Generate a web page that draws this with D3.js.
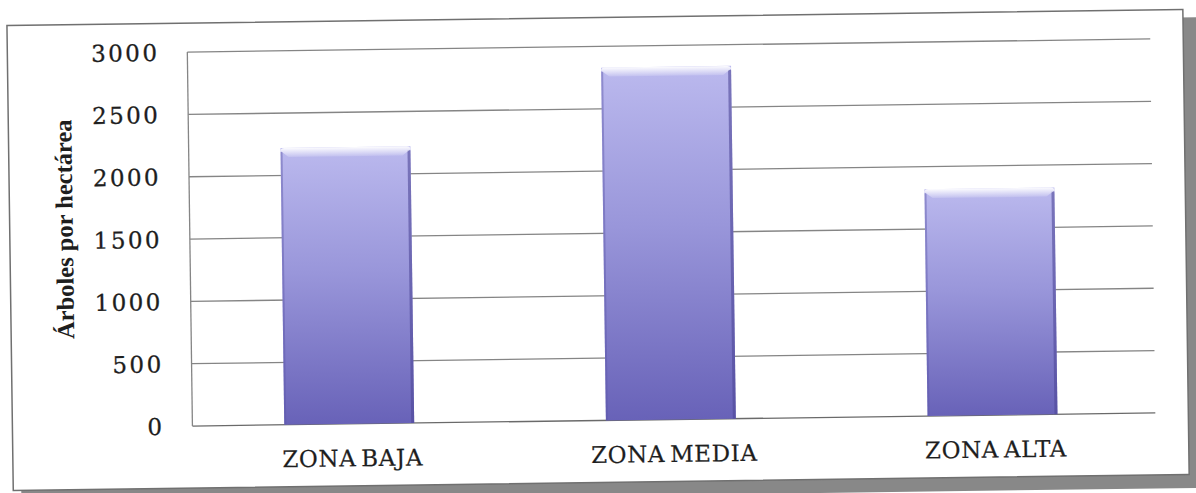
<!DOCTYPE html>
<html>
<head>
<meta charset="utf-8">
<script src="https://cdn.jsdelivr.net/npm/d3@7"></script>
<style>
  html, body { margin: 0; padding: 0; background: #fff; }
  svg { display: block; }
</style>
</head>
<body>
<svg></svg>
<script>
// data
var categories = ["ZONA BAJA", "ZONA MEDIA", "ZONA ALTA"];
var values = [2220, 2830, 1820];
var yTicks = [0, 500, 1000, 1500, 2000, 2500, 3000];
var yTitle = "Árboles por hectárea";

var width = 1196,
    height = 493;

var svg = d3.select("svg")
    .attr("width", width)
    .attr("height", height);

var defs = svg.append("defs");

var grad = defs.append("linearGradient")
    .attr("id", "barFill")
    .attr("x1", 0).attr("y1", 0)
    .attr("x2", 0).attr("y2", 1);
grad.append("stop").attr("offset", "0%").attr("stop-color", "#bbb9ee");
grad.append("stop").attr("offset", "45%").attr("stop-color", "#9996da");
grad.append("stop").attr("offset", "100%").attr("stop-color", "#6862b8");

var bevel = defs.append("linearGradient")
    .attr("id", "bevelFill")
    .attr("x1", 0).attr("y1", 0)
    .attr("x2", 0).attr("y2", 1);
bevel.append("stop").attr("offset", "0%").attr("stop-color", "#ffffff").attr("stop-opacity", 0.95);
bevel.append("stop").attr("offset", "100%").attr("stop-color", "#ffffff").attr("stop-opacity", 0.15);

// the scan is slightly tilted
var root = svg.append("g")
    .attr("transform", "rotate(-0.78, 598, 246)");

// frame with drop shadow
root.append("rect")
    .attr("x", 18).attr("y", 25.5)
    .attr("width", 1182).attr("height", 470.5)
    .attr("fill", "#888");

root.append("rect")
    .attr("x", 10).attr("y", 17.5)
    .attr("width", 1176).attr("height", 465)
    .attr("fill", "#fff")
    .attr("stroke", "#707070")
    .attr("stroke-width", 1.5);

var plotLeft = 190,
    plotRight = 1153;

var x = d3.scaleBand()
    .domain(categories)
    .range([186, 1151])
    .paddingInner(0.596)
    .paddingOuter(0.298);

var y = d3.scaleLinear()
    .domain([0, 3000])
    .range([420.5, 46.5]);

// gridlines
root.append("g")
    .selectAll("line")
    .data(yTicks)
    .join("line")
    .attr("x1", plotLeft)
    .attr("x2", plotRight)
    .attr("y1", function(d) { return y(d); })
    .attr("y2", function(d) { return y(d); })
    .attr("stroke", function(d) { return d === 0 ? "#6a6a6a" : "#858585"; })
    .attr("stroke-width", 1.3);

// value axis line
root.append("line")
    .attr("x1", plotLeft).attr("x2", plotLeft)
    .attr("y1", y(3000)).attr("y2", y(0))
    .attr("stroke", "#858585")
    .attr("stroke-width", 1.3);

// tick labels
root.append("g")
    .selectAll("text")
    .data(yTicks)
    .join("text")
    .attr("x", 162)
    .attr("y", function(d) { return y(d); })
    .attr("dy", "0.36em")
    .attr("text-anchor", "end")
    .attr("font-family", "'DejaVu Serif', serif")
    .attr("font-size", 23)
    .attr("letter-spacing", 2.4)
    .attr("fill", "#1e1e1e")
    .attr("stroke", "#1e1e1e")
    .attr("stroke-width", 0.3)
    .text(function(d) { return d; });

// bars
var bars = root.append("g")
    .selectAll("g")
    .data(values)
    .join("g");

bars.append("rect")
    .attr("x", function(d, i) { return x(categories[i]); })
    .attr("y", function(d) { return y(d); })
    .attr("width", x.bandwidth())
    .attr("height", function(d) { return y(0) - y(d); })
    .attr("fill", "url(#barFill)");

// right edge shade
bars.append("rect")
    .attr("x", function(d, i) { return x(categories[i]) + x.bandwidth() - 3; })
    .attr("y", function(d) { return y(d) + 4; })
    .attr("width", 3)
    .attr("height", function(d) { return y(0) - y(d) - 4; })
    .attr("fill", "#4e4898")
    .attr("opacity", 0.6);

// left edge shade
bars.append("rect")
    .attr("x", function(d, i) { return x(categories[i]); })
    .attr("y", function(d) { return y(d) + 4; })
    .attr("width", 2)
    .attr("height", function(d) { return y(0) - y(d) - 4; })
    .attr("fill", "#5c56a8")
    .attr("opacity", 0.45);

// top bevel highlight
bars.append("path")
    .attr("d", function(d, i) {
      var x0 = x(categories[i]), x1 = x0 + x.bandwidth(), t = y(d), b = 9;
      return "M" + x0 + "," + (t + 3) +
        "Q" + x0 + "," + t + " " + (x0 + 4) + "," + t +
        "L" + (x1 - 4) + "," + t +
        "Q" + x1 + "," + t + " " + x1 + "," + (t + 3) +
        "L" + (x1 - 8) + "," + (t + b) +
        "L" + (x0 + 8) + "," + (t + b) + "Z";
    })
    .attr("fill", "url(#bevelFill)");

// category labels
root.append("g")
    .selectAll("text")
    .data(categories)
    .join("text")
    .attr("x", function(d) { return x(d) + x.bandwidth() / 2 + 3; })
    .attr("y", 463)
    .attr("text-anchor", "middle")
    .attr("font-family", "'DejaVu Serif', serif")
    .attr("font-size", 23)
    .attr("letter-spacing", 0.6)
    .attr("word-spacing", -3)
    .attr("fill", "#1e1e1e")
    .attr("stroke", "#1e1e1e")
    .attr("stroke-width", 0.2)
    .text(function(d) { return d; });

// axis title
root.append("text")
    .attr("transform", "translate(73,222) rotate(-90)")
    .attr("text-anchor", "middle")
    .attr("font-family", "'Liberation Serif', serif")
    .attr("font-weight", "bold")
    .attr("font-size", 24.5)
    .attr("fill", "#1e1e1e")
    .text(yTitle);
</script>
</body>
</html>
